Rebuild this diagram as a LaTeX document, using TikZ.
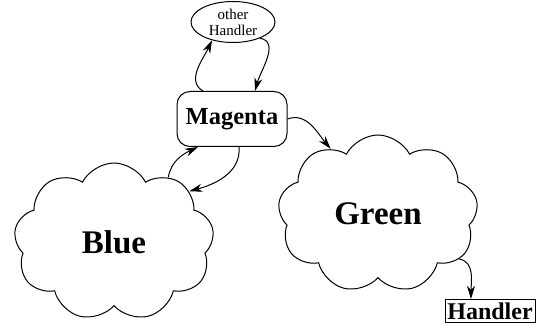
\documentclass[tikz,border=0pt]{standalone}
\usepackage{fontspec}
\setmainfont{Liberation Serif}
\usepackage{tikz}
\usetikzlibrary{shapes.geometric}
\usetikzlibrary{shapes.symbols}
\usetikzlibrary{arrows.meta}
\tikzset{
every cloudnode/.style={ % clouds for the colour groups
draw, cloud, cloud puffs=9, cloud puff arc=125,
cloud ignores aspect, line width=1pt,
minimum width=200pt, minimum height=158pt,
font=\fontsize{33}{36}\selectfont\bfseries},
handlerbox/.style={draw, line width=1pt, inner sep=0pt,
font=\fontsize{24}{26}\selectfont\bfseries},
every edge/.style={ % the connectors
draw, line width=1pt,
-{Stealth[length=13pt,width=8pt,inset=4pt]}}}

\begin{document}
\begin{tikzpicture}[x=1pt,y=1pt]
\useasboundingbox (0,0) rectangle (536,329);
\node[draw, ellipse, line width=1pt, minimum width=84pt, minimum height=41pt,
  inner sep=0pt, align=center, font=\fontsize{15}{16}\selectfont] (other) at (233,307) {other\\Handler};
\node[draw, rounded corners=13pt, line width=1pt, minimum width=110pt, minimum height=55pt,
  inner sep=0pt, font=\fontsize{24.5}{26}\selectfont\bfseries] (magenta) at (232,210) {Magenta};
\node[every cloudnode] (blue) at (114,87) {Blue};
\node[every cloudnode] (green) at (378,115) {Green};
\node[handlerbox, minimum width=90pt, minimum height=23pt] (handler) at (490,18) {Handler};
\draw ([xshift=-29pt]magenta.north) edge[out=150,in=245] (other.221);
\draw (other.-31) edge[out=-10,in=75] ([xshift=23pt]magenta.north);
\draw (blue.50) edge[out=80,in=205] ([xshift=-34pt]magenta.south);
\draw ([xshift=7pt]magenta.south) edge[out=-85,in=15] (blue.34);
\draw (magenta.east) edge[out=20,in=130] (green.126);
\draw (green.-29) edge[out=-10,in=90] ([xshift=-19pt]handler.north);
\end{tikzpicture}
\end{document}
